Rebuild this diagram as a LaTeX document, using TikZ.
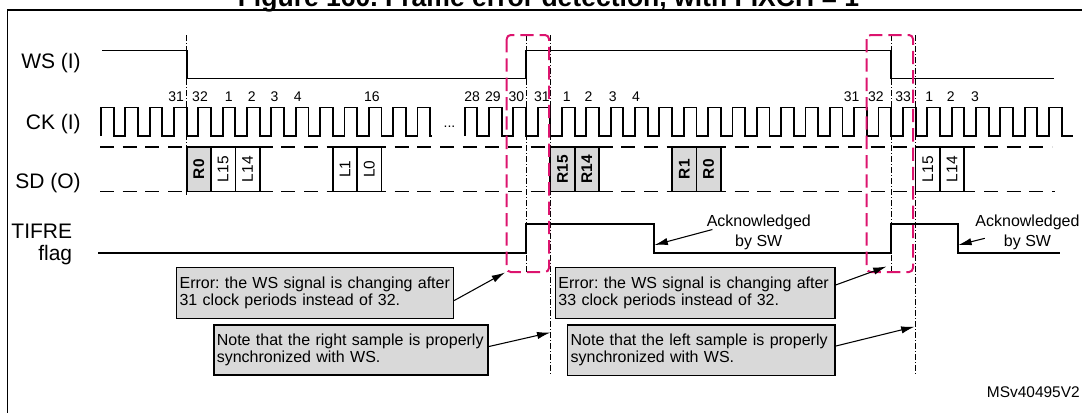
\documentclass[tikz,border=0pt]{standalone}
\usepackage{fontspec}
\setmainfont{Liberation Sans}
\usetikzlibrary{arrows.meta,calc}
\definecolor{pinkred}{RGB}{220,20,110}
\definecolor{boxgray}{RGB}{217,217,217}
\frenchspacing
\hyphenpenalty=10000
\begin{document}
\begin{tikzpicture}[x=0.75pt,y=-0.75pt,
  sig/.style={line width=1.4pt, line join=miter},
  sdline/.style={line width=1.4pt, dash pattern=on 10.5pt off 6.5pt},
  dashdot/.style={line width=0.6pt, dash pattern=on 4.5pt off 1.5pt on 0.75pt off 1.5pt},
  errbox/.style={draw=pinkred, line width=1.5pt, dash pattern=on 10pt off 4.5pt, rounded corners=3pt},
  lab/.style={font=\fontsize{15.75pt}{18pt}\selectfont, inner sep=0pt, anchor=base east},
  num/.style={font=\fontsize{10.5pt}{12pt}\selectfont, inner sep=0pt, anchor=base},
  sdbox/.style={draw, line width=1.3pt, rotate=90, minimum width=33.4pt, minimum height=18.26pt, inner sep=0pt, font=\fontsize{11.6pt}{13pt}\selectfont},
  rbox/.style={sdbox, fill=boxgray, font=\fontsize{11.6pt}{13pt}\selectfont\bfseries},
  lbox/.style={sdbox, fill=white},
  note/.style={draw, line width=1.2pt, fill=boxgray, align=left, inner xsep=2.25pt, inner ysep=0pt, font=\fontsize{12pt}{12.75pt}\selectfont},
  ack/.style={align=center, inner sep=0pt, font=\fontsize{12pt}{15pt}\selectfont},
  pointer/.style={line width=0.8pt, -{Latex[length=10pt,width=5.5pt]}}
]
\useasboundingbox (0,0) rectangle (1082,412);

% frame and (cut) title
\draw[line width=1.1pt] (7.6,430) -- (7.6,10) -- (1095,10);
\node[font=\fontsize{19.9pt}{22pt}\selectfont\bfseries, anchor=base, inner sep=0pt] (title) at (548.5,6.5) {Figure 160. Frame error detection, with FIXCH = 1};

% row labels
\node[lab] (ws) at (81,68.5) {WS (I)};
\node[lab] (ck) at (81,129.8) {CK (I)};
\node[lab] (sd) at (81,188.3) {SD (O)};
\node[lab, anchor=east, align=right, font=\fontsize{15.75pt}{16.8pt}\selectfont] (tifre) at (72.4,244.4) {TIFRE\\flag};

% dash-dot reference lines
\draw[dashdot] (186.7,35) -- (186.7,195);
\draw[dashdot] (526,35) -- (526,272);
\draw[dashdot] (550.35,35) -- (550.35,375);
\draw[dashdot] (891.25,35) -- (891.25,272);
\draw[dashdot] (915.6,35) -- (915.6,375);

% WS
\draw[sig] (102,50.5) -- (186.7,50.5) -- (186.7,78.5) -- (526,78.5) -- (526,50.5)
  -- (891.25,50.5) -- (891.25,78.5) -- (1054,78.5);

% CK segment 1
\draw[sig] (100.95,136) \foreach \k in {1,...,13}{ -- ++(0,-28.5) -- ++(12.7,0) -- ++(0,28.5) -- ++(11.65,0)}
  -- ++(0,-28.5) -- ++(12.7,0) -- ++(0,28.5) -- ++(1.5,0);
\node[num] (dots) at (449.5,127.5) {...};
% CK segment 2
\draw[sig] (464.6,136) \foreach \k in {1,...,25}{ -- ++(0,-28.5) -- ++(12.7,0) -- ++(0,28.5) -- ++(11.65,0)};

% clock numbers
\foreach \t/\x [count=\i] in {31/176.2, 32/200, 1/228.8, 2/251.7, 3/274.6, 4/297.8, 16/371.8,
   28/472.2, 29/492.8, 30/516.3, 31/541.8, 1/566.7, 2/588.6, 3/612.7, 4/636,
   31/851.7, 32/875.8, 33/903.2, 1/929.3, 2/950.7, 3/975}
  \node[num] (n\i) at (\x,101.5) {\t};

% SD lanes
\draw[sdline] (100,147) -- (1052,147);
\draw[sdline] (100,191.5) -- (1055,191.5);
\node[rbox] (sdr0a)  at (198.875,169.25) {R0};
\node[lbox] (sdl15a) at (223.225,169.25) {L15};
\node[lbox] (sdl14a) at (247.575,169.25) {L14};
\node[lbox] (sdl1)   at (344.975,169.25) {L1};
\node[lbox] (sdl0)   at (369.325,169.25) {L0};
\node[rbox] (sdr15)  at (562.525,169.25) {R15};
\node[rbox] (sdr14)  at (586.875,169.25) {R14};
\node[rbox] (sdr1)   at (684.275,169.25) {R1};
\node[rbox] (sdr0b)  at (708.625,169.25) {R0};
\node[lbox] (sdl15b) at (927.775,169.25) {L15};
\node[lbox] (sdl14b) at (952.125,169.25) {L14};

% TIFRE flag
\draw[sig] (98,253) -- (526,253) -- (526,224) -- (654,224) -- (654,253)
  -- (891.25,253) -- (891.25,224) -- (958.3,224) -- (958.3,253) -- (1060,253);

% error windows
\draw[errbox] (506.7,35) rectangle (549,272);
\draw[errbox] (866.7,35) rectangle (913,272);

% acknowledgements
\node[ack] (ack1) at (758.8,232.5) {Acknowledged\\by SW};
\node[ack] (ack2) at (1027.5,232.5) {Acknowledged\\by SW};
\coordinate (a1s) at (712.4,229.5);
\coordinate (a1t) at (654.5,245);
\coordinate (a2s) at (984.8,238.3);
\coordinate (a2t) at (958.3,245);
\draw[pointer] (a1s) -- (a1t);
\draw[pointer] (a2s) -- (a2t);

% notes
\node[note, text width=203.1pt, minimum height=38.25pt] (noteA) at (315,292.8)
  {Error: the WS signal is changing after\\31 clock periods instead of 32.};
\node[note, text width=201.15pt, minimum height=37.5pt] (noteB) at (350.9,350)
  {Note that the right sample is properly\\synchronized with WS.};
\node[note, text width=205pt, minimum height=38.25pt] (noteC) at (695.15,292.8)
  {Error: the WS signal is changing after\\33 clock periods instead of 32.};
\node[note, text width=195.9pt, minimum height=38pt] (noteD) at (701.2,350.35)
  {Note that the left sample is properly\\synchronized with WS.};
\coordinate (tA) at (505,272.5);
\coordinate (tB) at (550.35,332.5);
\coordinate (tC) at (886.5,266.5);
\coordinate (tD) at (914.5,326.7);
\draw[pointer] ([yshift=-5.8pt]noteA.east) -- (tA);
\draw[pointer] ([yshift=2.6pt]noteB.east) -- (tB);
\draw[pointer] ([yshift=5.85pt]noteC.east) -- (tC);
\draw[pointer] ([yshift=3.2pt]noteD.east) -- (tD);

\node[font=\fontsize{11.6pt}{13pt}\selectfont, anchor=base east, inner sep=0pt] (code) at (1080,397.3) {MSv40495V2};
\end{tikzpicture}
\end{document}
